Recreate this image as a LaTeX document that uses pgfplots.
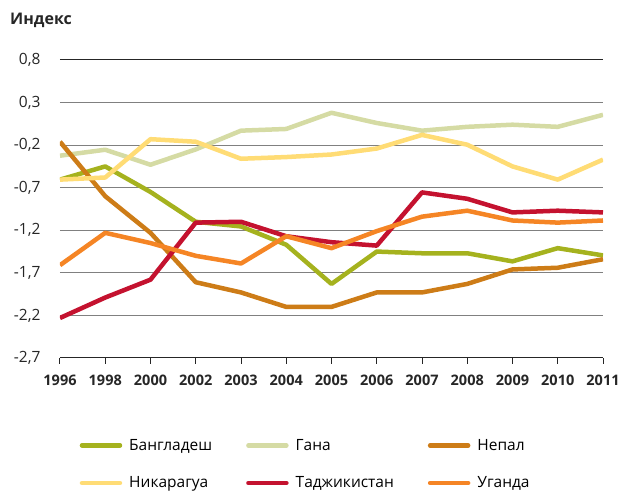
\documentclass[border=0pt]{standalone}
\usepackage{pgfplots}
\pgfplotsset{compat=1.18}
\usepackage{fontspec}
\setmainfont{Open Sans}
\definecolor{cBan}{HTML}{A5B21E}
\definecolor{cGha}{HTML}{D5DBA4}
\definecolor{cNep}{HTML}{CD7C17}
\definecolor{cNic}{HTML}{FFDC75}
\definecolor{cTaj}{HTML}{C4122F}
\definecolor{cUga}{HTML}{F58525}
\begin{document}
\begin{tikzpicture}
\path[use as bounding box] (0pt,0pt) rectangle (622pt,492pt);
\node[anchor=base west, font=\fontsize{16}{18}\selectfont\bfseries, text=black!85, inner sep=0pt] at (10pt,467pt) {Индекс};
\begin{axis}[
  at={(60pt,134pt)}, anchor=south west,
  scale only axis, width=543pt, height=298pt,
  xmin=0, xmax=12, ymin=-2.7, ymax=0.8,
  axis x line=bottom, axis y line=left,
  axis line style={-},
  x axis line style={black!85, line width=1pt},
  y axis line style={draw=none},
  xtick={0,...,12},
  xticklabels={1996,1998,2000,2002,2003,2004,2005,2006,2007,2008,2009,2010,2011},
  xtick align=outside,
  major x tick style={black!85, line width=1pt},
  major tick length=6pt,
  xticklabel style={font=\fontsize{14.5}{16}\selectfont\bfseries, text=black!85, yshift=-7pt},
  ytick={-2.7,-2.2,-1.7,-1.2,-0.7,-0.2,0.3},
  extra y ticks={0.8},
  extra y tick style={grid style={black!85, line width=1pt}},
  ymajorgrids,
  grid style={black!50, line width=1pt},
  major y tick style={draw=none},
  yticklabel style={font=\fontsize{15.5}{17}\selectfont, text=black!85, xshift=-13pt},
  /pgf/number format/assume math mode=true,
  /pgf/number format/.cd, use comma, fixed, fixed zerofill, precision=1,
  /pgfplots/.cd,
  every axis plot/.append style={line width=4.5pt, line join=round},
  legend columns=3,
  legend cell align=left,
  legend style={draw=none, fill=none, inner sep=0pt,
    at={(axis description cs:0.036,-0.265)}, anchor=north west,
    font=\fontsize{15.5}{17}\selectfont,
    /tikz/every odd column/.append style={column sep=5pt},
    /tikz/every even column/.append style={column sep=32pt},
    /tikz/column 4/.style={column sep=16pt},
    row sep=21pt},
  legend image code/.code={\draw[#1, line cap=round, line width=4.5pt] (0pt,0pt) -- (38pt,0pt);},
]
\addplot[cBan] coordinates {(0,-0.605)(1,-0.45)(2,-0.75)(3,-1.10)(4,-1.155)(5,-1.37)(6,-1.83)(7,-1.45)(8,-1.47)(9,-1.47)(10,-1.565)(11,-1.41)(12,-1.495)};
\addlegendentry{Бангладеш}
\addplot[cGha] coordinates {(0,-0.324)(1,-0.254)(2,-0.43)(3,-0.25)(4,-0.03)(5,-0.01)(6,0.18)(7,0.06)(8,-0.03)(9,0.015)(10,0.04)(11,0.015)(12,0.156)};
\addlegendentry{Гана}
\addplot[cNep] coordinates {(0,-0.16)(1,-0.80)(2,-1.23)(3,-1.81)(4,-1.93)(5,-2.10)(6,-2.10)(7,-1.93)(8,-1.93)(9,-1.83)(10,-1.66)(11,-1.64)(12,-1.54)};
\addlegendentry{Непал}
\addplot[cNic] coordinates {(0,-0.605)(1,-0.58)(2,-0.13)(3,-0.16)(4,-0.36)(5,-0.34)(6,-0.31)(7,-0.24)(8,-0.08)(9,-0.195)(10,-0.45)(11,-0.605)(12,-0.37)};
\addlegendentry{Никарагуа}
\addplot[cTaj] coordinates {(0,-2.23)(1,-1.99)(2,-1.78)(3,-1.11)(4,-1.10)(5,-1.27)(6,-1.34)(7,-1.38)(8,-0.755)(9,-0.83)(10,-0.99)(11,-0.97)(12,-0.99)};
\addlegendentry{Таджикистан}
\addplot[cUga] coordinates {(0,-1.61)(1,-1.23)(2,-1.35)(3,-1.50)(4,-1.59)(5,-1.27)(6,-1.41)(7,-1.21)(8,-1.04)(9,-0.97)(10,-1.085)(11,-1.11)(12,-1.085)};
\addlegendentry{Уганда}
\end{axis}
\end{tikzpicture}
\end{document}
